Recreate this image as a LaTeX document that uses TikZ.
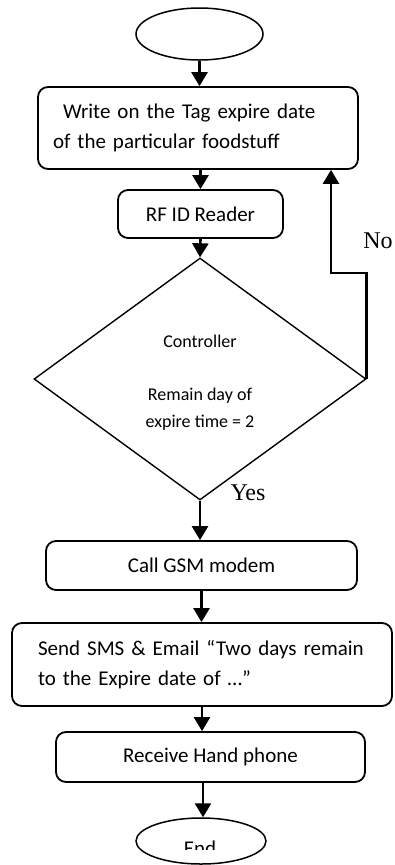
\documentclass[tikz,border=0pt]{standalone}
\usepackage{fontspec}
\setmainfont{Carlito}
\newfontfamily\labelfont{Liberation Serif}
\usetikzlibrary{arrows.meta,shapes.geometric}

\tikzset{
  procbox/.style={draw, line width=1.8pt, rounded corners=10pt, inner sep=0pt,
    font=\fontsize{21}{30}\selectfont},
  terminal/.style={draw, ellipse, line width=1.5pt, inner sep=0pt},
  decision/.style={draw, diamond, line width=1.4pt, inner sep=0pt,
    minimum width=332pt, minimum height=242pt},
  flow/.style={line width=2.6pt, -{Triangle[length=14pt,width=16pt]}},
  branch/.style={font=\labelfont\fontsize{24}{28}\selectfont, anchor=base, inner sep=0pt}
}

\begin{document}
\begin{tikzpicture}[x=1pt, y=-1pt]
  \clip (0,0) rectangle (395,865);
  \useasboundingbox (0,0) rectangle (395,865);

  % terminals
  \node[terminal, minimum width=127pt, minimum height=52pt] (start) at (199.5,34) {};
  \node[terminal, minimum width=130pt, minimum height=46pt] (end) at (201,841) {};
  \begin{scope}
    % the end label is cut off by its text frame
    \clip (0,0) rectangle (395,849);
    \node[anchor=base, inner sep=0pt, font=\fontsize{21}{26}\selectfont] (endtxt) at (200,855.5) {End};
  \end{scope}

  % process boxes
  \node[procbox, minimum width=320pt, minimum height=82pt, text width=290pt, align=left]
    (write) at (198,128) {\hspace*{10pt}Write on the Tag expire date\\of the particular foodstuff};
  \node[procbox, minimum width=165pt, minimum height=48pt] (rf) at (200.5,214) {RF ID Reader};

  % decision
  \node[decision] (dec) at (200,379) {};
  \node[align=center, inner sep=0pt, font=\fontsize{18}{26.5}\selectfont]
    (dectxt) at (200,382.5) {Controller\\[26.5pt]Remain day of\\expire time = 2};

  \node[procbox, minimum width=311pt, minimum height=49pt] (gsm) at (201.5,565.5) {Call GSM modem};
  \node[procbox, minimum width=380pt, minimum height=83pt, text width=328pt, align=left]
    (sms) at (202,664.5) {Send SMS \& Email “Two days remain\\to the Expire date of …”};
  \node[procbox, minimum width=309pt, minimum height=50pt] (recv) at (210.5,757) {Receive Hand phone};

  % branch labels
  \node[branch] (yes) at (248,500) {Yes};
  \node[branch] (no) at (378,248) {No};

  % main flow
  \draw[flow] (start.south) -- (start.south |- write.north);
  \draw[flow] (rf.north |- write.south) -- (rf.north);
  \draw[flow] (rf.south) -- (dec.north);
  \draw[flow] (dec.south) -- (dec.south |- gsm.north);
  \draw[flow] (gsm.south) -- (gsm.south |- sms.north);
  \draw[flow] (sms.south) -- (sms.south |- recv.north);
  \draw[flow] ([xshift=-7.5pt]recv.south) -- ([xshift=-7.5pt]recv.south |- end.north);

  % "No" loop back to the tag writing step
  \coordinate (nobend) at (331,273);
  \draw[flow] (dec.east) |- (nobend) -- (nobend |- write.south);
\end{tikzpicture}
\end{document}
